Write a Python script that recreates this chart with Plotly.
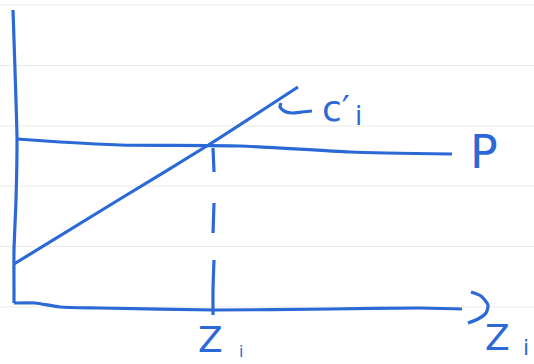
import plotly.graph_objects as go

# Hand-drawn style sketch: marginal cost c'_i rising across a flat price P,
# with the optimum Z_i marked on the horizontal axis.

INK = "#2b6ad6"
RULE = "#ebebeb"

# ruled paper lines (y positions)
rule_y = [5, 65.5, 126, 186, 246.5, 307]

# vertical axis stroke
vaxis_x = [13, 15, 17, 16, 14, 14, 14]
vaxis_y = [10, 70, 139, 200, 250, 290, 303]

# horizontal axis stroke
haxis_x = [14, 35, 60, 100, 215, 330, 420, 462]
haxis_y = [303, 303, 307, 308, 310, 309, 308, 309]

# arrow head ")" on the horizontal axis
arrow_x = [471, 481, 488, 486, 478, 468]
arrow_y = [292, 296, 305, 313, 319, 323]

# price line P
p_x = [17, 60, 120, 240, 350, 452]
p_y = [139, 142, 145, 146, 152, 154]

# marginal cost line c'_i
c_x = [14, 120, 210, 298]
c_y = [264, 199, 144, 87]

# hook connecting c'_i label to its line
hook_x = [281, 280, 284, 292, 302, 312]
hook_y = [103, 107, 111, 113, 112, 111]

# dashed drop line at Z_i (each dash as a segment)
dash_x = [[213, 214], [214, 213], [214, 213, 213]]
dash_y = [[148, 172], [203, 233], [260, 290, 315]]

# text labels
labels = [
    ("c′", 336, 108, 36),
    ("i", 358, 116, 26),
    ("P", 484, 152, 46),
    ("Z", 210, 339, 36),
    ("i", 241, 351, 16),
    ("Z", 497, 337, 36),
    ("i", 526, 347, 22),
]

fig = go.Figure()

for y in rule_y:
    fig.add_trace(go.Scatter(x=[0, 534], y=[y, y], mode="lines",
                             line=dict(color=RULE, width=1), hoverinfo="skip"))

strokes = [(vaxis_x, vaxis_y), (haxis_x, haxis_y), (arrow_x, arrow_y),
           (p_x, p_y), (c_x, c_y), (hook_x, hook_y)]
strokes += list(zip(dash_x, dash_y))

for xs, ys in strokes:
    fig.add_trace(go.Scatter(x=xs, y=ys, mode="lines",
                             line=dict(color=INK, width=3.2, shape="spline", smoothing=0.6),
                             hoverinfo="skip"))

for txt, x, y, size in labels:
    fig.add_annotation(x=x, y=y, text=txt, showarrow=False, xanchor="center",
                       yanchor="middle",
                       font=dict(family="DejaVu Sans", size=size, color=INK))

fig.update_layout(
    width=534, height=364,
    margin=dict(l=0, r=0, t=0, b=0),
    paper_bgcolor="white", plot_bgcolor="white",
    showlegend=False,
    xaxis=dict(range=[0, 534], visible=False, fixedrange=True),
    yaxis=dict(range=[364, 0], visible=False, fixedrange=True),
)

fig.write_html("out.html")
